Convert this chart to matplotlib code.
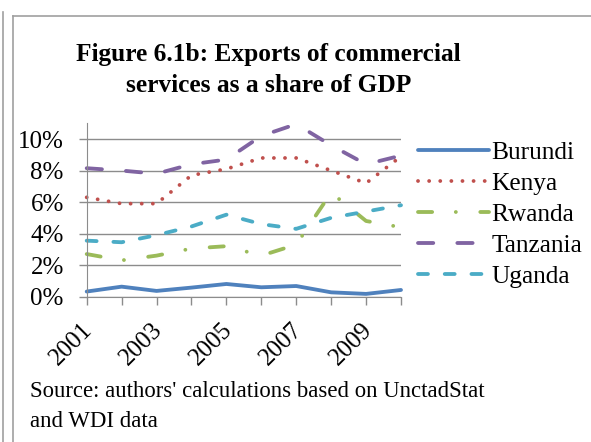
import matplotlib
matplotlib.use('Agg')
import matplotlib.pyplot as plt
import matplotlib.transforms as mtransforms
from matplotlib.lines import Line2D
from matplotlib.ticker import FuncFormatter

plt.rcParams['font.family'] = ['Liberation Serif', 'DejaVu Serif']

# Exports of commercial services, % of GDP
years = [2001, 2002, 2003, 2004, 2005, 2006, 2007, 2008, 2009, 2010]
burundi = [0.32, 0.63, 0.36, 0.57, 0.80, 0.59, 0.67, 0.27, 0.17, 0.42]
kenya = [6.3, 5.9, 5.9, 7.7, 8.1, 8.8, 8.8, 8.0, 7.2, 8.9]
rwanda = [2.7, 2.3, 2.6, 3.05, 3.2, 2.6, 3.3, 6.6, 4.8, 4.4]
tanzania = [8.15, 8.0, 7.8, 8.4, 8.7, 10.2, 10.95, 9.6, 8.4, 8.95]
uganda = [3.55, 3.45, 3.9, 4.45, 5.2, 4.6, 4.3, 5.0, 5.4, 5.8]
labelled_years = [2001, 2003, 2005, 2007, 2009]

fig = plt.figure(figsize=(5.91, 4.42), dpi=100)
ax = fig.add_axes([0.1467, 0.329, 0.5318, 0.392])

lw = 2.75
series = [
    ('Burundi', burundi, '#4F81BD', None),
    ('Kenya', kenya, '#C0504D', (0, (0.01, 2.9))),
    ('Rwanda', rwanda, '#9BBB59', (0, (3.7, 6.2, 0.01, 6.4))),
    ('Tanzania', tanzania, '#8064A2', (0, (4.0, 6.3))),
    ('Uganda', uganda, '#4BACC6', (0, (2.6, 4.4))),
]
for name, vals, col, ls in series:
    kw = dict(color=col, lw=lw, label=name, solid_capstyle='round',
              dash_capstyle='round', clip_on=False)
    if ls is not None:
        kw['linestyle'] = ls
    ax.plot(years, vals, **kw)

ax.set_xlim(2001, 2010)
ax.set_ylim(0, 11)
ax.set_yticks([0, 2, 4, 6, 8, 10])
ax.yaxis.set_major_formatter(FuncFormatter(lambda v, p: f'{v:.0f}%'))
ax.set_xticks(years)
ax.set_xticklabels([str(y) if y in labelled_years else '' for y in years],
                   rotation=45, ha='right', va='top', rotation_mode='anchor')
ax.grid(axis='y', color='#8c8c8c', lw=1)
ax.set_axisbelow(True)
for s in ['top', 'right']:
    ax.spines[s].set_visible(False)
ax.spines['left'].set_color('#8c8c8c')
ax.spines['bottom'].set_color('#8c8c8c')
ax.tick_params(axis='both', colors='#8c8c8c', labelcolor='black',
               labelsize=18, length=5.5, width=1)
ax.tick_params(axis='y', pad=11)
ax.tick_params(axis='x', pad=10.6)

# pull the slanted year labels back so they end at their tick
shift = mtransforms.ScaledTranslation(-0.052, 0, fig.dpi_scale_trans)
for lab in ax.get_xticklabels():
    lab.set_transform(lab.get_transform() + shift)

leg = ax.legend(loc='center left', bbox_to_anchor=(0.708, 0.515),
                bbox_transform=fig.transFigure, frameon=False,
                fontsize=18.3, handlelength=2.76, handletextpad=0.12,
                labelspacing=0.32, borderaxespad=0, borderpad=0)

fig.text(0.454, 0.842, 'Figure 6.1b: Exports of commercial\nservices as a share of GDP',
         ha='center', va='center', fontsize=18.3, fontweight='bold',
         linespacing=1.45)
fig.text(0.05, 0.081, "Source: authors' calculations based on UnctadStat\nand WDI data",
         ha='left', va='center', fontsize=16.4, linespacing=1.55)

# cell borders around the figure
border = '#a0a0a0'
fig.add_artist(Line2D([0.005, 0.005], [0, 0.973], color=border, lw=1.2))
fig.add_artist(Line2D([0.022, 0.022], [0, 0.964], color=border, lw=1.2))
fig.add_artist(Line2D([0.022, 1.0], [0.964, 0.964], color=border, lw=1.2))

fig.savefig('out.png', dpi=100)
